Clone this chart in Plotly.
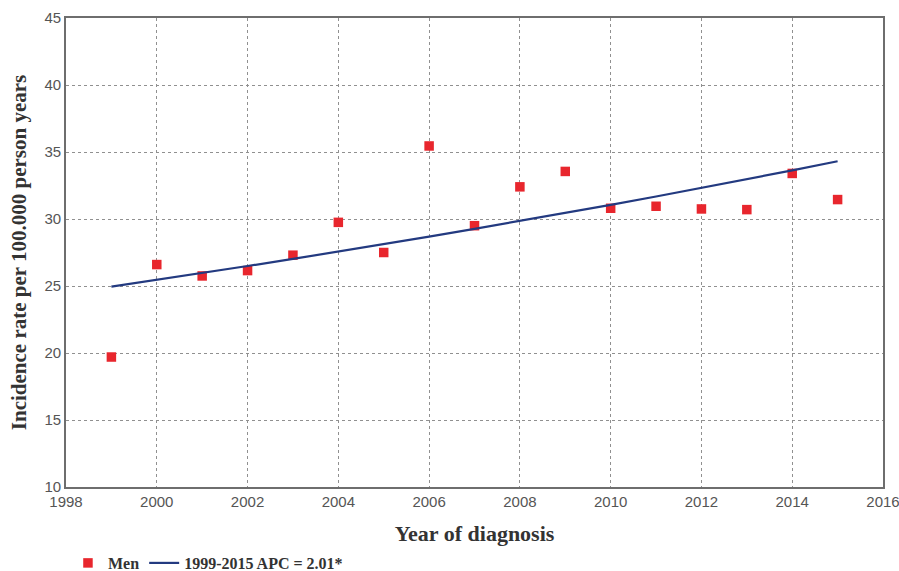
import plotly.graph_objects as go

years = [1999, 2000, 2001, 2002, 2003, 2004, 2005, 2006, 2007, 2008,
         2009, 2010, 2011, 2012, 2013, 2014, 2015]
men_rate = [19.7, 26.6, 25.75, 26.15, 27.3, 29.75, 27.5, 35.45, 29.5, 32.4,
            33.55, 30.8, 30.95, 30.75, 30.7, 33.4, 31.45]
# fitted APC trend values
trend_rate = [24.95, 25.45, 25.96, 26.49, 27.02, 27.56, 28.12, 28.68, 29.26,
              29.85, 30.45, 31.06, 31.68, 32.32, 32.97, 33.63, 34.31]
x_ticks = [1998, 2000, 2002, 2004, 2006, 2008, 2010, 2012, 2014, 2016]
y_ticks = [10, 15, 20, 25, 30, 35, 40, 45]

serif = "Liberation Serif"
fig = go.Figure()
fig.add_trace(go.Scatter(
    x=years, y=men_rate, mode="markers", name="<b>Men</b>",
    marker=dict(symbol="square", size=9.5, color="#e8262d"),
))
fig.add_trace(go.Scatter(
    x=years, y=trend_rate, mode="lines", name="<b>1999-2015 APC = 2.01*</b>",
    line=dict(color="#233a80", width=2.2),
))

axis_common = dict(
    showline=True, linecolor="#6e6e6e", linewidth=1.8, mirror=True,
    showgrid=True, gridcolor="#909090", griddash="dot", gridwidth=1,
    zeroline=False, ticks="", automargin=False, ticklabeloverflow="allow",
    tickfont=dict(family="Liberation Sans", size=15, color="#555555"),
)
fig.update_layout(
    width=899, height=571,
    margin=dict(l=66, r=16, t=18, b=84),
    paper_bgcolor="white", plot_bgcolor="white",
    xaxis=dict(range=[1998, 2016], tickvals=x_ticks,
               title=dict(text="<b>Year of diagnosis</b>",
                          font=dict(family=serif, size=22, color="#333333"),
                          standoff=21),
               **axis_common),
    yaxis=dict(range=[10, 45], tickvals=y_ticks,
               title=dict(text="<b>Incidence rate per 100.000 person years</b>",
                          font=dict(family=serif, size=21, color="#333333"),
                          standoff=12),
               **axis_common),
    legend=dict(orientation="h", xref="container", yref="container",
                x=0.0756, xanchor="left", y=0.014, yanchor="middle",
                font=dict(family=serif, size=16, color="#333333"),
                tracegroupgap=0, bgcolor="rgba(0,0,0,0)"),
    showlegend=True,
)
fig.write_html("out.html", config={"displayModeBar": False},
               post_script="document.body.style.margin='0';document.body.style.overflow='hidden';")
